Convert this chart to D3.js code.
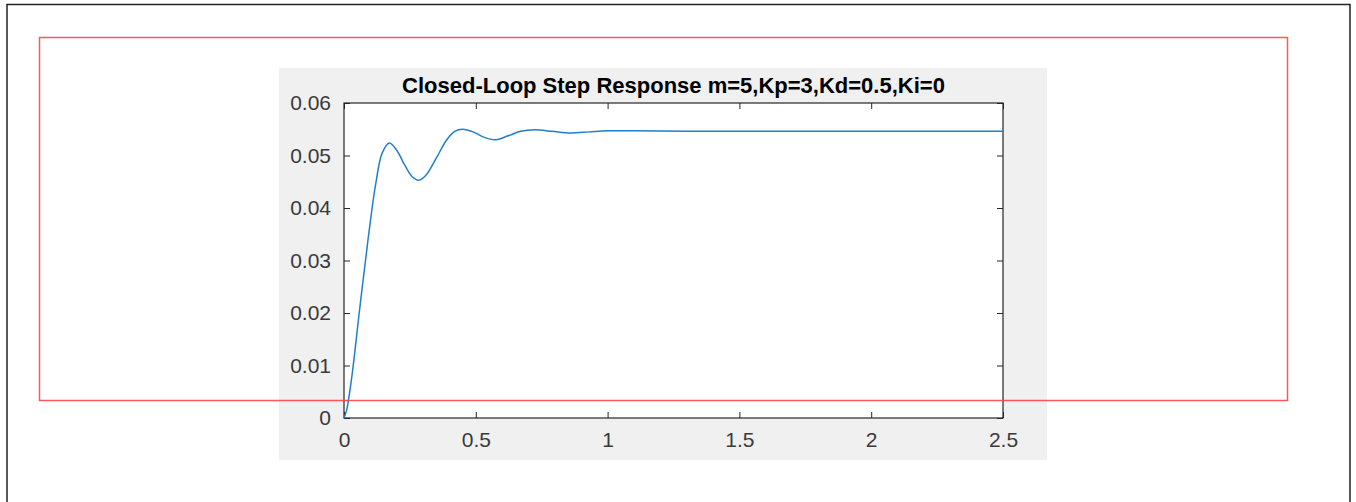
<!DOCTYPE html>
<html>
<head>
<meta charset="utf-8">
<script src="https://cdn.jsdelivr.net/npm/d3@7"></script>
<style>
  html, body { margin: 0; padding: 0; background: #fff; }
  svg text { font-family: "Liberation Sans", Arial, sans-serif; }
</style>
</head>
<body>
<div id="chart"></div>
<script>
(function () {

    const TITLE = "Closed-Loop Step Response m=5,Kp=3,Kd=0.5,Ki=0"
    const X_TICKS = [0, 0.5, 1, 1.5, 2, 2.5]
    const Y_TICKS = [0, 0.01, 0.02, 0.03, 0.04, 0.05, 0.06]

    // values
    const TIME = [0, 0.01, 0.03, 0.06, 0.09, 0.12, 0.145, 0.172, 0.2, 0.23, 0.26, 0.283, 0.31, 0.35, 0.39, 0.42, 0.45,
        0.49, 0.53, 0.575, 0.62, 0.67, 0.725, 0.79, 0.86, 0.93, 1.0, 1.1, 1.3, 1.6, 2.0, 2.5]
    const RESPONSE = [0, 0.0015, 0.008, 0.021, 0.0335, 0.0445, 0.0505, 0.0524, 0.051, 0.0482, 0.0459, 0.0453, 0.0462,
        0.0495, 0.053, 0.0546, 0.055, 0.0545, 0.0535, 0.053, 0.0537, 0.0546, 0.0549, 0.0546, 0.0543, 0.0545,
        0.0547, 0.0547, 0.0546, 0.0546, 0.0546, 0.0546]

    const width = 1356, height = 502
    const svg = d3.select("#chart").append("svg")
        .attr("width", width)
        .attr("height", height)

    // page frame
    svg.append("path")
        .attr("d", "M7,502 V4.5 H1350 V502")
        .attr("fill", "none")
        .attr("stroke", "#222")
        .attr("stroke-width", 1.5)

    // figure background
    svg.append("rect")
        .attr("x", 279).attr("y", 68)
        .attr("width", 768).attr("height", 392)
        .attr("fill", "#f0f0f0")

    const left = 344, right = 1003, top = 103, bottom = 418

    const xScale = d3.scaleLinear().domain([0, 2.5]).range([left, right])
    const yScale = d3.scaleLinear().domain([0, 0.06]).range([bottom, top])

    svg.append("rect")
        .attr("x", left).attr("y", top)
        .attr("width", right - left).attr("height", bottom - top)
        .attr("fill", "#fff")

    const fmt = d => d === 0 ? "0" : String(d)
    const axisColor = "#262626"

    const styleAxis = g => {
        g.select(".domain").remove()
        g.selectAll("line").attr("stroke", axisColor)
        g.selectAll("text").attr("fill", "#3a3a3a").attr("font-size", 21)
    }

    svg.append("g")
        .attr("transform", `translate(0,${bottom})`)
        .call(d3.axisBottom(xScale).tickValues(X_TICKS).tickFormat(fmt).tickSizeInner(-6).tickSizeOuter(0).tickPadding(14))
        .call(styleAxis)

    svg.append("g")
        .attr("transform", `translate(0,${top})`)
        .call(d3.axisTop(xScale).tickValues(X_TICKS).tickFormat("").tickSizeInner(-6).tickSizeOuter(0))
        .call(styleAxis)

    svg.append("g")
        .attr("transform", `translate(${left},0)`)
        .call(d3.axisLeft(yScale).tickValues(Y_TICKS).tickFormat(fmt).tickSizeInner(-6).tickSizeOuter(0).tickPadding(13))
        .call(styleAxis)

    svg.append("g")
        .attr("transform", `translate(${right},0)`)
        .call(d3.axisRight(yScale).tickValues(Y_TICKS).tickFormat("").tickSizeInner(-6).tickSizeOuter(0))
        .call(styleAxis)

    // box
    svg.append("rect")
        .attr("x", left).attr("y", top)
        .attr("width", right - left).attr("height", bottom - top)
        .attr("fill", "none")
        .attr("stroke", axisColor)
        .attr("stroke-width", 1.2)

    const line = d3.line()
        .x((d, i) => xScale(TIME[i]))
        .y(d => yScale(d))
        .curve(d3.curveCatmullRom.alpha(0.5))

    svg.append("path")
        .datum(RESPONSE)
        .attr("d", line)
        .attr("fill", "none")
        .attr("stroke", "#1f80c8")
        .attr("stroke-width", 1.5)

    svg.append("text")
        .attr("x", (left + right) / 2)
        .attr("y", 93)
        .attr("text-anchor", "middle")
        .attr("font-size", 22)
        .attr("font-weight", "bold")
        .attr("fill", "#000")
        .text(TITLE)

    // red highlight frame
    svg.append("rect")
        .attr("x", 39.5).attr("y", 37.5)
        .attr("width", 1248).attr("height", 363)
        .attr("fill", "none")
        .attr("stroke", "#ff3b3b")
        .attr("stroke-opacity", 0.85)
        .attr("stroke-width", 1.5)
})()
</script>
</body>
</html>
